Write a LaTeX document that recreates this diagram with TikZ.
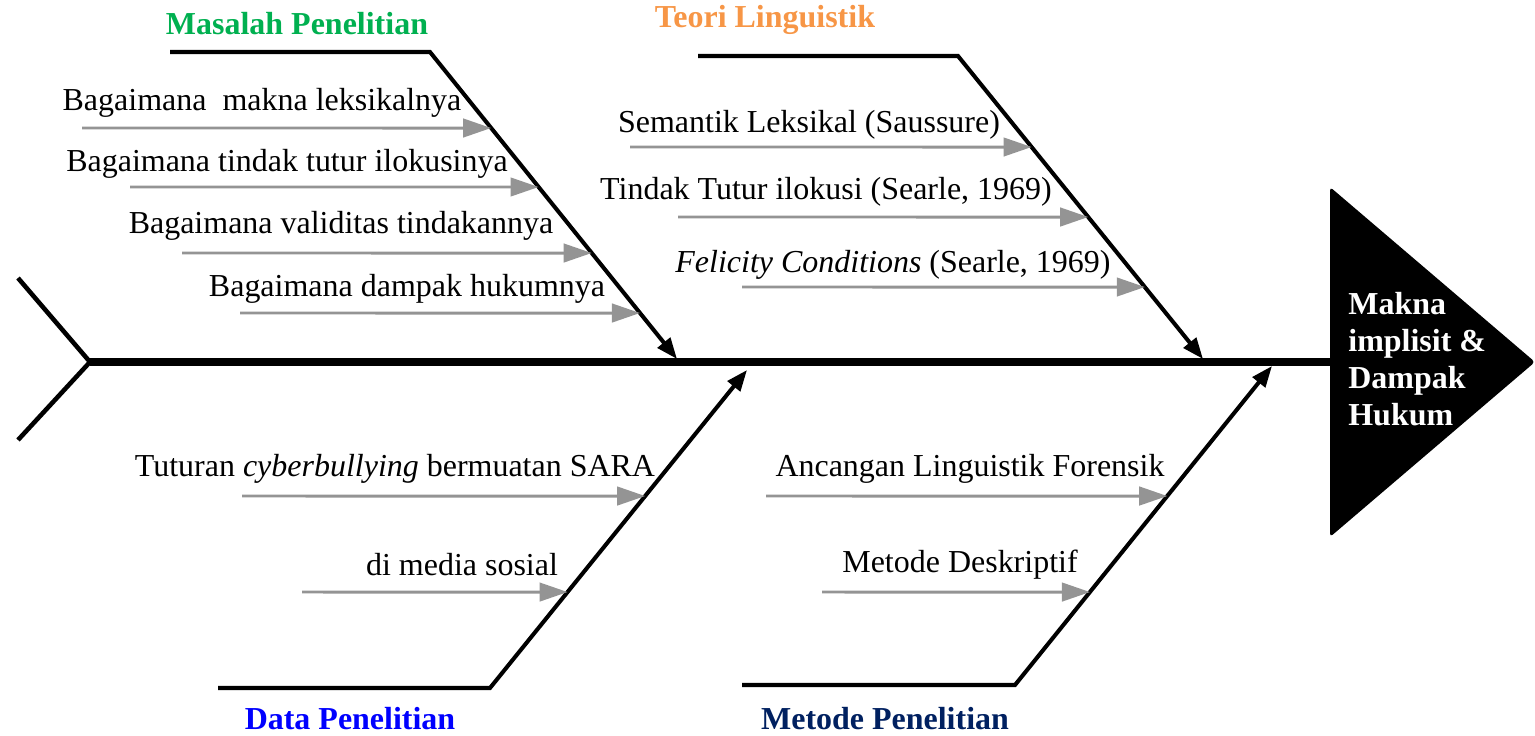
\documentclass[tikz,border=0pt]{standalone}
\usepackage{fontspec}
\setmainfont{Liberation Serif}
\usetikzlibrary{arrows.meta}
\definecolor{masalahgreen}{HTML}{00B050}
\definecolor{teoriorange}{HTML}{F79646}
\definecolor{datablue}{HTML}{0000FF}
\definecolor{metodenavy}{HTML}{002060}
\tikzset{
  spine/.style={line width=4.5pt},
  bone/.style={line width=2.3pt,-{Triangle[length=12pt,width=9pt]}},
  rib/.style={draw=black!42,line width=1.7pt,-{Triangle[length=16pt,width=10.5pt]},color=black!42},
  causetxt/.style={inner sep=0pt,font=\fontsize{18.2}{22}\selectfont},
  bonetitle/.style={inner sep=0pt,font=\fontsize{18.2}{22}\selectfont\bfseries},
}
\begin{document}
\begin{tikzpicture}[x=0.02cm,y=-0.02cm]
\useasboundingbox (0,0) rectangle (1535,736);
% spine and tail
\coordinate (s0) at (90,362);
\coordinate (s1) at (1332,362);
\coordinate (tailup) at (18,278);
\coordinate (taildown) at (18,440);
\draw[spine] (s0) -- (s1);
\draw[line width=2.6pt] (tailup) -- (s0) -- (taildown);
% head
\fill[rounded corners=2pt] (1330,187) -- (1535,362) -- (1330,537) -- cycle;
\node[anchor=west,align=left,text=white,inner sep=0pt,font=\fontsize{18.2}{21.2}\selectfont\bfseries] (head) at (1348,359) {Makna\\implisit \&\\Dampak\\Hukum};
% bones
\coordinate (m0) at (170,52);  \coordinate (m1) at (430,52);  \coordinate (m2) at (677,359);
\coordinate (t0) at (698,56);  \coordinate (t1) at (958,56);  \coordinate (t2) at (1203,359);
\coordinate (d0) at (218,688); \coordinate (d1) at (490,688); \coordinate (d2) at (747,370);
\coordinate (k0) at (742,685); \coordinate (k1) at (1015,685); \coordinate (k2) at (1272,366);
\foreach \b in {m,t,d,k}
  \draw[bone] (\b0) -- (\b1) -- (\b2);
\node[bonetitle,text=masalahgreen] (masalah) at (297,24) {Masalah Penelitian};
\node[bonetitle,text=teoriorange] (teori) at (765,20) {Teori Linguistik};
\node[bonetitle,text=datablue] (data) at (350,719) {Data Penelitian};
\node[bonetitle,text=metodenavy] (metode) at (885,719) {Metode Penelitian};
% ribs: bone/index/y/start x/label x/label y/text
\foreach \b/\i/\yy/\xs/\lx/\ly/\txt in {
  m/1/128/82/262/103/{Bagaimana\ \ makna leksikalnya},
  m/2/187/130/287/164/{Bagaimana tindak tutur ilokusinya},
  m/3/253/182/341/226/{Bagaimana validitas tindakannya},
  m/4/313/240/407/289/{Bagaimana dampak hukumnya},
  t/1/147/630/809/125/{Semantik Leksikal (Saussure)},
  t/2/217/678/826/192/{Tindak Tutur ilokusi (Searle, 1969)},
  t/3/287/742/893/265/{\textit{Felicity Conditions} (Searle, 1969)},
  d/1/496/242/395/469/{Tuturan \textit{cyberbullying} bermuatan SARA},
  d/2/592/302/462/565/{di media sosial},
  k/1/496/766/970/469/{Ancangan Linguistik Forensik},
  k/2/592/822/960/565/{Metode Deskriptif}} {
  \coordinate (\b s\i) at (\xs,\yy);
  \coordinate (\b e\i) at (intersection of \b1--\b2 and \xs,\yy--1400,\yy);
  \draw[rib] (\b s\i) -- (\b e\i);
  \node[causetxt] (\b l\i) at (\lx,\ly) {\txt};
}
\end{tikzpicture}
\end{document}
